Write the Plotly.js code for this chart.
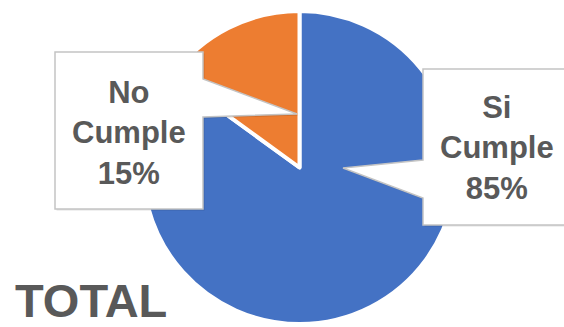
<!DOCTYPE html>
<html><head><meta charset="utf-8">
<script src="https://cdn.plot.ly/plotly-3.0.1.min.js"></script>
<style>html,body{margin:0;padding:0;background:#fff}#chart{width:564px;height:327px}</style>
</head><body><div id="chart"></div>
<script>
const categories = ["Si Cumple", "No Cumple"];
const values = [85, 15];
const colors = ["#4472C4", "#ED7D31"];
const chartTitle = "TOTAL";

const W = 564, H = 327;
const px = x => x / W;
const py = y => 1 - y / H;
function path(pts) {
  return "M" + pts.map(p => px(p[0]).toFixed(5) + "," + py(p[1]).toFixed(5)).join(" L") + " Z";
}
const cx = 299.5, cy = 167.5, R = 156.5;

const boxNo = [[55,52],[203,52],[203,79],[297,114],[203,117],[203,209],[55,209]];
const boxSi = [[423,69],[568,69],[568,225],[423,225],[423,198],[343,168],[423,160]];
const shift = (pts, d) => pts.map(p => [p[0] + d, p[1] + d]);

const shapes = [];
[boxNo, boxSi].forEach(b => {
  shapes.push({type:"path", xref:"paper", yref:"paper", path:path(shift(b,1.5)), fillcolor:"rgba(0,0,0,0.12)", line:{width:0}, layer:"above"});
  shapes.push({type:"path", xref:"paper", yref:"paper", path:path(b), fillcolor:"#ffffff", line:{color:"#c4c4c4", width:1.5}, layer:"above"});
});

const labelPos = [[497,148],[129,133]];
const annotations = categories.map((c, i) => ({
  xref:"paper", yref:"paper", x:px(labelPos[i][0]), y:py(labelPos[i][1]),
  xanchor:"center", yanchor:"middle", showarrow:false,
  text: c.replace(" ", "<br>") + "<br>" + values[i] + "%",
  font:{family:"Liberation Sans, Arial", size:31, color:"#595959", weight:"bold"}
}));
annotations.push({
  xref:"paper", yref:"paper", x:px(13), y:py(300), xanchor:"left", yanchor:"middle", showarrow:false,
  text: chartTitle, font:{family:"Liberation Sans, Arial", size:47, color:"#595959", weight:"bold"}
});

const data = [{
  type:"pie", labels:categories, values:values, sort:false, direction:"clockwise", rotation:0,
  marker:{colors:colors, line:{color:"#ffffff", width:4}},
  textinfo:"none", hoverinfo:"skip",
  domain:{x:[px(cx-R), px(cx+R)], y:[py(cy+R), py(cy-R)]}
}];
const layout = {
  width:W, height:H, margin:{l:0,r:0,t:0,b:0}, showlegend:false,
  paper_bgcolor:"#ffffff", shapes:shapes, annotations:annotations
};
Plotly.newPlot("chart", data, layout, {displayModeBar:false, staticPlot:true});
</script></body></html>
